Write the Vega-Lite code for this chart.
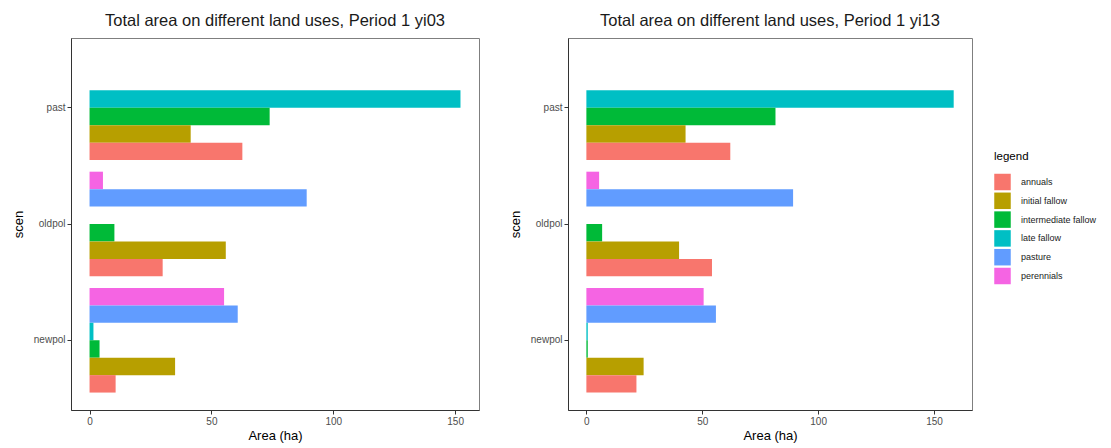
{
  "$schema": "https://vega.github.io/schema/vega-lite/v6.json",
  "padding": {"left": 11, "top": 12, "right": 0, "bottom": 0},
  "background": "white",
  "datasets": {
    "yi03": [
      {"scen": "past", "landuse": "late fallow", "area": 152.2},
      {"scen": "past", "landuse": "intermediate fallow", "area": 73.9},
      {"scen": "past", "landuse": "initial fallow", "area": 41.5},
      {"scen": "past", "landuse": "annuals", "area": 62.7},
      {"scen": "oldpol", "landuse": "perennials", "area": 5.5},
      {"scen": "oldpol", "landuse": "pasture", "area": 89.1},
      {"scen": "oldpol", "landuse": "intermediate fallow", "area": 10.2},
      {"scen": "oldpol", "landuse": "initial fallow", "area": 55.9},
      {"scen": "oldpol", "landuse": "annuals", "area": 30.0},
      {"scen": "newpol", "landuse": "perennials", "area": 55.2},
      {"scen": "newpol", "landuse": "pasture", "area": 60.8},
      {"scen": "newpol", "landuse": "late fallow", "area": 1.6},
      {"scen": "newpol", "landuse": "intermediate fallow", "area": 4.1},
      {"scen": "newpol", "landuse": "initial fallow", "area": 35.1},
      {"scen": "newpol", "landuse": "annuals", "area": 10.7}
    ],
    "yi13": [
      {"scen": "past", "landuse": "late fallow", "area": 158.5},
      {"scen": "past", "landuse": "intermediate fallow", "area": 81.6},
      {"scen": "past", "landuse": "initial fallow", "area": 42.8},
      {"scen": "past", "landuse": "annuals", "area": 62.1},
      {"scen": "oldpol", "landuse": "perennials", "area": 5.5},
      {"scen": "oldpol", "landuse": "pasture", "area": 89.2},
      {"scen": "oldpol", "landuse": "intermediate fallow", "area": 6.8},
      {"scen": "oldpol", "landuse": "initial fallow", "area": 40.0},
      {"scen": "oldpol", "landuse": "annuals", "area": 54.2},
      {"scen": "newpol", "landuse": "perennials", "area": 50.6},
      {"scen": "newpol", "landuse": "pasture", "area": 55.9},
      {"scen": "newpol", "landuse": "late fallow", "area": 0.6},
      {"scen": "newpol", "landuse": "intermediate fallow", "area": 0.6},
      {"scen": "newpol", "landuse": "initial fallow", "area": 24.7},
      {"scen": "newpol", "landuse": "annuals", "area": 21.6}
    ]
  },
  "spacing": 28,
  "hconcat": [
    {
      "width": 408,
      "height": 372,
      "title": {"text": "Total area on different land uses, Period 1 yi03"},
      "data": {"name": "yi03"},
      "mark": {"type": "bar"},
      "encoding": {
        "y": {"field": "scen", "type": "nominal", "sort": ["past", "oldpol", "newpol"],
              "scale": {"paddingInner": 0.1, "paddingOuter": 0.15}, "title": "scen"},
        "yOffset": {"field": "landuse", "type": "nominal",
                    "scale": {"domain": ["perennials", "pasture", "late fallow", "intermediate fallow", "initial fallow", "annuals"], "paddingInner": 0, "paddingOuter": 0}},
        "x": {"field": "area", "type": "quantitative", "title": "Area (ha)",
              "scale": {"domain": [-7.61, 159.8], "nice": false, "zero": false},
              "axis": {"values": [0, 50, 100, 150]}},
        "x2": {"datum": 0},
        "color": {"field": "landuse", "type": "nominal", "title": "legend",
                  "scale": {"domain": ["annuals", "initial fallow", "intermediate fallow", "late fallow", "pasture", "perennials"],
                            "range": ["#F8766D", "#B79F00", "#00BA38", "#00BFC4", "#619CFF", "#F564E3"]}}
      }
    },
    {
      "width": 404,
      "height": 372,
      "title": {"text": "Total area on different land uses, Period 1 yi13"},
      "data": {"name": "yi13"},
      "mark": {"type": "bar"},
      "encoding": {
        "y": {"field": "scen", "type": "nominal", "sort": ["past", "oldpol", "newpol"],
              "scale": {"paddingInner": 0.1, "paddingOuter": 0.15}, "title": "scen"},
        "yOffset": {"field": "landuse", "type": "nominal",
                    "scale": {"domain": ["perennials", "pasture", "late fallow", "intermediate fallow", "initial fallow", "annuals"], "paddingInner": 0, "paddingOuter": 0}},
        "x": {"field": "area", "type": "quantitative", "title": "Area (ha)",
              "scale": {"domain": [-7.93, 166.4], "nice": false, "zero": false},
              "axis": {"values": [0, 50, 100, 150]}},
        "x2": {"datum": 0},
        "color": {"field": "landuse", "type": "nominal", "title": "legend",
                  "scale": {"domain": ["annuals", "initial fallow", "intermediate fallow", "late fallow", "pasture", "perennials"],
                            "range": ["#F8766D", "#B79F00", "#00BA38", "#00BFC4", "#619CFF", "#F564E3"]}}
      }
    }
  ],
  "resolve": {"scale": {"x": "independent", "y": "independent", "yOffset": "independent"}},
  "config": {
    "font": "Liberation Sans",
    "view": {"stroke": "#7f7f7f", "strokeWidth": 1},
    "title": {"fontSize": 16.5, "fontWeight": "normal", "color": "#1a1a1a", "anchor": "middle", "offset": 9},
    "axis": {
      "grid": false,
      "labelFontSize": 10,
      "labelColor": "#4d4d4d",
      "labelPadding": 2,
      "tickColor": "#333333",
      "tickSize": 4,
      "domainColor": "#333333",
      "titleFontSize": 13,
      "titleFontWeight": "normal",
      "titleColor": "#000000"
    },
    "axisY": {"titlePadding": 8},
    "axisX": {"titlePadding": 3},
    "legend": {
      "orient": "none",
      "legendX": 923,
      "legendY": 113,
      "titleFontSize": 11.5,
      "titleFontWeight": "normal",
      "titleColor": "#000000",
      "titlePadding": 11,
      "labelFontSize": 9,
      "labelColor": "#1a1a1a",
      "labelOffset": 10,
      "symbolType": "square",
      "symbolSize": 272,
      "symbolStrokeWidth": 0,
      "symbolOpacity": 1,
      "rowPadding": 1.8
    }
  }
}
